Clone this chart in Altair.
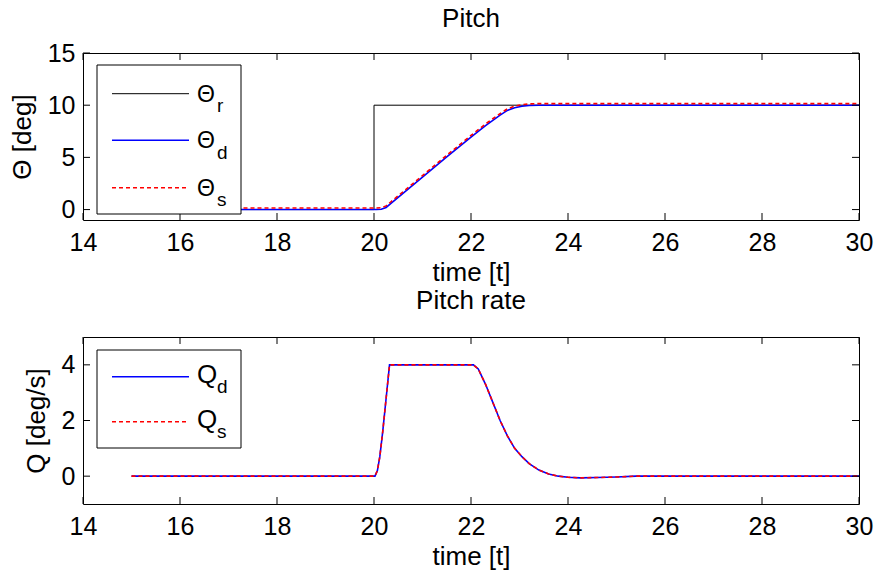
import altair as alt
import pandas as pd

# ---- Pitch angle (deg) ----
theta_time = [15, 20.05, 20.15, 20.25, 20.35, 21.0, 21.5, 22.0, 22.15, 22.3,
              22.45, 22.6, 22.75, 22.9, 23.05, 23.2, 23.4, 30]
theta_d = [0, 0, 0.03, 0.2, 0.6, 3.1, 5.05, 6.95, 7.5, 8.05,
           8.55, 9.05, 9.5, 9.75, 9.9, 9.97, 10.0, 10.0]
theta_s = [0.15, 0.15, 0.18, 0.35, 0.75, 3.25, 5.2, 7.1, 7.65, 8.2,
           8.7, 9.2, 9.65, 9.9, 10.05, 10.12, 10.15, 10.15]

ref_time = [15, 20, 20, 30]
theta_r = [0, 0, 10, 10]

# ---- Pitch rate (deg/s) ----
q_time = [15, 20.02, 20.07, 20.12, 20.18, 20.25, 20.32, 22.05, 22.15, 22.3,
          22.45, 22.6, 22.75, 22.9, 23.05, 23.2, 23.4, 23.6, 23.8, 24.0,
          24.25, 24.6, 25.0, 25.4, 30]
q_d = [0, 0, 0.2, 0.7, 1.6, 2.8, 4.0, 4.0, 3.85, 3.3,
       2.65, 2.0, 1.45, 1.0, 0.7, 0.45, 0.22, 0.08, 0.0, -0.04,
       -0.06, -0.05, -0.03, 0.0, 0.0]
q_s = [0, 0, 0.2, 0.7, 1.6, 2.8, 4.0, 4.0, 3.85, 3.3,
       2.65, 2.0, 1.45, 1.0, 0.7, 0.45, 0.22, 0.08, 0.0, -0.04,
       -0.06, -0.05, -0.03, 0.0, 0.0]

x_ticks = [14, 16, 18, 20, 22, 24, 26, 28, 30]
theta_ticks = [0, 5, 10, 15]
q_ticks = [0, 2, 4]

W, H = 776, 167
TICK = 7
FONT = "Liberation Sans"
BLACK, BLUE, RED = "#000000", "#0000ff", "#ff0000"
DASH = [4, 3]

x_scale = alt.Scale(domain=[14, 30], nice=False, zero=False)
X_AXIS = alt.Axis(values=x_ticks, title="time [t]", grid=False, domain=False,
                  ticks=False, labelFlush=False, labelPadding=10, titlePadding=4)


def series_df(t, v):
    return pd.DataFrame({"t": t, "v": v, "i": range(len(t))})


def panel(lines, y_domain, y_ticks, y_title, title, title_offset, legend_layers):
    y_scale = alt.Scale(domain=y_domain, nice=False, zero=False)
    y_axis = alt.Axis(values=y_ticks, title=y_title, grid=False, domain=False,
                      ticks=False, labelFlush=False, labelPadding=8,
                      titlePadding=12)
    X = alt.X("t:Q", scale=x_scale, axis=X_AXIS, title="time [t]")
    Y = alt.Y("v:Q", scale=y_scale, axis=y_axis, title=y_title)

    layers = []
    for df, color, dash, sw in lines:
        mark = alt.Chart(df).mark_line(color=color, strokeWidth=sw, clip=True,
                                       **({"strokeDash": dash} if dash else {}))
        layers.append(mark.encode(x=X, y=Y, order="i:Q"))

    # inward tick marks on all four sides of the frame
    xt = pd.DataFrame({"t": x_ticks})
    yt = pd.DataFrame({"v": y_ticks})
    tick_style = dict(color=BLACK, strokeWidth=1)
    layers += [
        alt.Chart(xt).mark_rule(**tick_style).encode(
            x=X, y=alt.value(H), y2=alt.value(H - TICK)),
        alt.Chart(xt).mark_rule(**tick_style).encode(
            x=X, y=alt.value(0), y2=alt.value(TICK)),
        alt.Chart(yt).mark_rule(**tick_style).encode(
            y=Y, x=alt.value(0), x2=alt.value(TICK)),
        alt.Chart(yt).mark_rule(**tick_style).encode(
            y=Y, x=alt.value(W), x2=alt.value(W - TICK)),
    ]
    layers += legend_layers
    return alt.layer(*layers).properties(
        width=W, height=H,
        title=alt.TitleParams(title, fontSize=26, font=FONT, fontWeight="normal",
                              color=BLACK, offset=title_offset))


one = pd.DataFrame({"k": [0]})


def legend(box, entries, symbol, sym_size, sub_dy, text_dy):
    x0, y0, x1, y1 = box
    out = [alt.Chart(one).mark_rect(fill="white", stroke=BLACK, strokeWidth=1).encode(
        x=alt.value(x0), x2=alt.value(x1), y=alt.value(y0), y2=alt.value(y1))]
    for ly, sub, color, dash, sw in entries:
        out.append(alt.Chart(one).mark_rule(
            color=color, strokeWidth=sw, **({"strokeDash": dash} if dash else {})
        ).encode(x=alt.value(29), x2=alt.value(106), y=alt.value(ly)))
        out.append(alt.Chart(one).mark_text(
            text=symbol, font=FONT, fontSize=sym_size, align="left",
            baseline="alphabetic", color=BLACK
        ).encode(x=alt.value(114), y=alt.value(ly + text_dy)))
        out.append(alt.Chart(one).mark_text(
            text=sub, font=FONT, fontSize=19, align="left",
            baseline="alphabetic", color=BLACK
        ).encode(x=alt.value(134), y=alt.value(ly + sub_dy)))
    return out


top = panel(
    [(series_df(ref_time, theta_r), BLACK, None, 1),
     (series_df(theta_time, theta_d), BLUE, None, 1.6),
     (series_df(theta_time, theta_s), RED, DASH, 1.6)],
    [-1, 15], theta_ticks, "Θ [deg]", "Pitch", 9,
    legend((14, 12, 158, 161),
           [(40.7, "r", BLACK, None, 1),
            (87.3, "d", BLUE, None, 1.4),
            (134.7, "s", RED, DASH, 1.5)],
           "Θ", 23, 18.5, 8),
)

bottom = panel(
    [(series_df(q_time, q_d), BLUE, None, 1.6),
     (series_df(q_time, q_s), RED, DASH, 1.6)],
    [-1, 5], q_ticks, "Q [deg/s]", "Pitch rate", 23,
    legend((14, 13, 158, 111),
           [(39.7, "d", BLUE, None, 1.4),
            (84.7, "s", RED, DASH, 1.5)],
           "Q", 26, 16, 6.5),
)

chart = alt.vconcat(top, bottom, spacing=1).properties(
    padding={"left": 8, "top": 5, "right": 4, "bottom": 4}
).configure(
    background="white"
).configure_view(
    stroke=BLACK, strokeWidth=1
).configure_axis(
    labelFont=FONT, titleFont=FONT, labelFontSize=25, titleFontSize=26,
    labelColor=BLACK, titleColor=BLACK, titleFontWeight="normal"
)

chart.save("out.html", embed_options={"renderer": "svg", "actions": False})
